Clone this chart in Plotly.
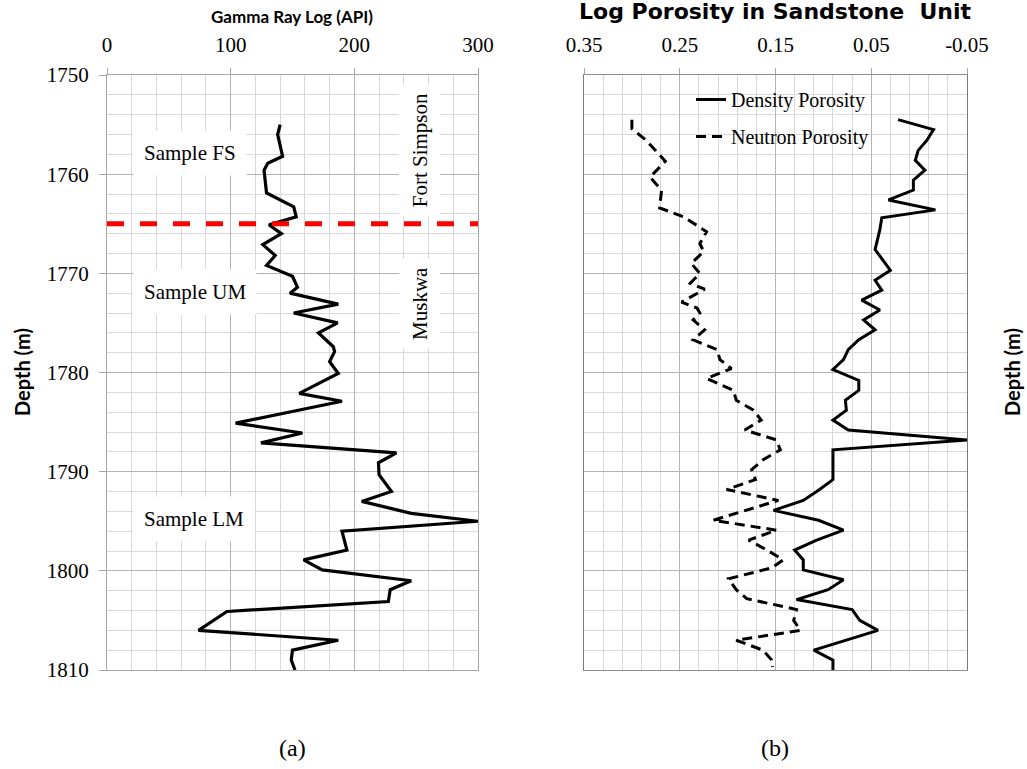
import plotly.graph_objects as go

# ---------------- data ----------------
gamma_depth = [1755.0, 1756.0, 1758.2, 1758.9, 1759.6, 1761.9, 1763.3, 1764.3, 1765.1, 1766.0,
               1767.1, 1768.2, 1769.2, 1770.3, 1771.4, 1772.0, 1773.1, 1774.0, 1775.0, 1776.0,
               1777.4, 1777.9, 1778.9, 1780.1, 1782.1, 1782.9, 1785.1, 1786.1, 1787.1, 1788.1,
               1789.1, 1790.3, 1792.0, 1793.0, 1794.2, 1795.0, 1796.0, 1797.9, 1798.9, 1799.9,
               1801.0, 1801.9, 1803.1, 1804.1, 1806.0, 1807.0, 1808.0, 1809.0, 1810.0]
gamma_api = [140, 138, 142, 130, 127, 129, 151, 153, 131, 141,
             126, 136, 129, 150, 154, 148, 187, 151, 186.5, 171,
             183, 184, 180, 187, 155.5, 190, 104, 158, 124.5, 234,
             219.5, 220, 230, 206, 246, 300, 190, 194, 159, 174,
             246, 229, 227.5, 97, 74, 187, 150, 149, 152]

density_depth = [1754.5, 1755.5, 1756.6, 1757.6, 1758.6, 1759.6, 1760.6, 1761.6, 1762.6, 1763.6,
                 1764.4, 1765.6, 1767.6, 1769.7, 1770.7, 1771.7, 1772.7, 1773.7, 1774.7, 1775.7,
                 1776.7, 1777.7, 1778.7, 1779.7, 1780.8, 1781.8, 1782.8, 1783.8, 1784.8, 1785.8,
                 1786.8, 1787.8, 1790.8, 1791.8, 1792.9, 1793.9, 1794.9, 1795.9, 1796.9, 1797.9,
                 1798.9, 1799.9, 1800.9, 1801.9, 1802.9, 1803.9, 1805.0, 1806.0, 1808.0, 1809.0,
                 1810.0]
density_por = [0.022, -0.015, -0.008, 0.001, 0.004, -0.006, 0.006, 0.006, 0.032, -0.017,
               0.039, 0.041, 0.046, 0.030, 0.046, 0.039, 0.060, 0.041, 0.058, 0.046,
               0.063, 0.074, 0.079, 0.090, 0.063, 0.063, 0.077, 0.076, 0.090, 0.074,
               -0.050, 0.090, 0.090, 0.104, 0.121, 0.152, 0.105, 0.079, 0.107, 0.130,
               0.121, 0.121, 0.079, 0.095, 0.128, 0.070, 0.062, 0.043, 0.110, 0.090,
               0.090]

neutron_depth = [1754.5, 1755.4, 1756.6, 1758.7, 1760.3, 1761.6, 1763.4, 1764.3, 1765.8, 1767.0,
                 1767.8, 1769.0, 1770.0, 1771.0, 1771.6, 1772.9, 1773.5, 1774.0, 1774.7, 1775.7,
                 1776.7, 1777.7, 1778.7, 1779.6, 1780.6, 1781.8, 1782.8, 1783.8, 1784.8, 1785.8,
                 1786.8, 1787.8, 1788.8, 1789.8, 1790.8, 1791.8, 1792.9, 1794.9, 1795.9, 1796.9,
                 1797.9, 1798.9, 1799.7, 1800.8, 1801.9, 1802.8, 1803.9, 1805.0, 1806.0, 1807.0,
                 1808.0, 1809.0, 1809.7]
neutron_por = [0.300, 0.300, 0.285, 0.265, 0.281, 0.269, 0.271, 0.246, 0.222, 0.229,
               0.225, 0.238, 0.229, 0.239, 0.224, 0.248, 0.232, 0.229, 0.236, 0.224,
               0.236, 0.211, 0.208, 0.196, 0.222, 0.194, 0.191, 0.173, 0.165, 0.182,
               0.149, 0.145, 0.163, 0.175, 0.171, 0.201, 0.147, 0.215, 0.149, 0.178,
               0.159, 0.142, 0.154, 0.199, 0.191, 0.180, 0.128, 0.131, 0.124, 0.191,
               0.163, 0.154, 0.153]

boundary_depth = 1765.0
gamma_ticks = [0, 100, 200, 300]
por_ticks = [0.35, 0.25, 0.15, 0.05, -0.05]
por_ticktext = ["0.35", "0.25", "0.15", "0.05", "-0.05"]
depth_ticks = [1750, 1760, 1770, 1780, 1790, 1800, 1810]

sample_labels = ["Sample FS", "Sample UM", "Sample LM"]
sample_pos = [(67, 1757.9), (71, 1771.9), (70, 1794.8)]
formation_labels = ["Fort Simpson", "Muskwa"]
formation_pos = [(253, 1757.6), (253, 1773.0)]

# ---------------- layout helpers ----------------
W, H = 1027, 769
def px(x):
    return x / W
def py(y):
    return 1 - y / H

SERIF = "Liberation Serif"
SANS = "Lato"
MINOR_GRID = "#d9d9d9"
MAJOR_GRID = "#b4b4b4"

fig = go.Figure()

fig.add_trace(go.Scatter(x=gamma_api, y=gamma_depth, mode="lines", xaxis="x", yaxis="y",
                         line=dict(color="black", width=3.2), showlegend=False))
fig.add_trace(go.Scatter(x=[gamma_ticks[0], gamma_ticks[-1]], y=[boundary_depth, boundary_depth],
                         mode="lines", xaxis="x", yaxis="y",
                         line=dict(color="#ff0000", width=5, dash="17px,16px"), showlegend=False))
fig.add_trace(go.Scatter(x=density_por, y=density_depth, mode="lines", xaxis="x2", yaxis="y2",
                         name="Density Porosity", legendgroup="d",
                         line=dict(color="black", width=3)))
fig.add_trace(go.Scatter(x=neutron_por, y=neutron_depth, mode="lines", xaxis="x2", yaxis="y2",
                         name="Neutron Porosity", legendgroup="n",
                         line=dict(color="black", width=3, dash="10px,6px")))

ydom = [py(670), py(75)]
common_y = dict(range=[1810, 1750], domain=ydom, dtick=10, tick0=1750,
                showgrid=True, gridcolor=MAJOR_GRID, gridwidth=1,
                minor=dict(dtick=2, showgrid=True, gridcolor=MINOR_GRID, gridwidth=1),
                zeroline=False, showline=True, mirror=True, linewidth=1.2, automargin=False)

fig.update_layout(
    width=W, height=H, margin=dict(l=0, r=0, t=0, b=0, pad=0, autoexpand=False),
    paper_bgcolor="white", plot_bgcolor="white",
    xaxis=dict(domain=[px(107), px(478)], range=[0, 300], side="top", anchor="y",
               tickvals=gamma_ticks, showgrid=True, gridcolor=MAJOR_GRID,
               minor=dict(dtick=20, tick0=0, showgrid=True, gridcolor=MINOR_GRID),
               zeroline=False, showline=True, mirror=True, linecolor="#a6a6a6", linewidth=1.2,
               ticks="outside", ticklen=6, tickcolor="#a6a6a6", ticklabelstandoff=8,
               automargin=False,
               tickfont=dict(family=SERIF, size=21, color="black")),
    yaxis=dict(anchor="x", tickvals=depth_ticks, ticks="outside", ticklen=7, tickcolor="#a6a6a6",
               linecolor="#a6a6a6", ticklabelstandoff=6,
               tickfont=dict(family=SERIF, size=21, color="black"), **common_y),
    xaxis2=dict(domain=[px(584), px(967)], range=[0.35, -0.05], side="top", anchor="y2",
                tickvals=por_ticks, ticktext=por_ticktext, showgrid=True, gridcolor=MAJOR_GRID,
                minor=dict(dtick=0.02, tick0=-0.05, showgrid=True, gridcolor=MINOR_GRID),
                zeroline=False, showline=True, mirror=True, linecolor="#8c8c8c", linewidth=1.2,
                ticks="outside", ticklen=6, tickcolor="#a6a6a6", ticklabelstandoff=8,
                automargin=False,
                tickfont=dict(family=SERIF, size=21, color="black")),
    yaxis2=dict(anchor="x2", showticklabels=False, ticks="", linecolor="#7a7a7a", **common_y),
    legend=dict(x=px(691), y=py(80), xanchor="left", yanchor="top",
                bgcolor="rgba(0,0,0,0)", borderwidth=0, tracegroupgap=8,
                font=dict(family=SERIF, size=20, color="black")),
    showlegend=True,
)

# white background box behind legend (covers grid lines)
fig.add_shape(type="rect", xref="paper", yref="paper",
              x0=px(663), x1=px(895), y0=py(155), y1=py(82),
              fillcolor="white", line=dict(width=0), layer="between")

annotations = []
for txt, (xv, yv) in zip(sample_labels, sample_pos):
    annotations.append(dict(text=txt, x=xv, y=yv, xref="x", yref="y", showarrow=False,
                            xanchor="center", yanchor="middle",
                            font=dict(family=SERIF, size=21, color="black"),
                            bgcolor="white", borderpad=10))
for txt, (xv, yv) in zip(formation_labels, formation_pos):
    annotations.append(dict(text=txt, x=xv, y=yv, xref="x", yref="y", showarrow=False,
                            xanchor="center", yanchor="middle",
                            textangle=-90, font=dict(family=SERIF, size=21, color="black"),
                            bgcolor="white", borderpad=8))
def paper_text(txt, x, y, font, angle=0):
    return dict(text=txt, x=px(x), y=py(y), xref="paper", yref="paper", showarrow=False,
                xanchor="center", yanchor="middle", textangle=angle, font=font)

annotations += [
    paper_text("<b>Gamma Ray Log (API)</b>", 292, 17, dict(family=SANS, size=17, color="black")),
    paper_text("<b>Log Porosity in Sandstone  Unit</b>", 775, 12,
               dict(family="DejaVu Sans", size=22, color="black")),
    paper_text("<b>Depth (m)</b>", 22, 372, dict(family=SANS, size=20, color="black"), -90),
    paper_text("<b>Depth (m)</b>", 1012, 372, dict(family=SANS, size=20, color="black"), -90),
    paper_text("(a)", 292, 748, dict(family=SERIF, size=24, color="black")),
    paper_text("(b)", 775, 748, dict(family=SERIF, size=24, color="black")),
]
fig.update_layout(annotations=annotations)

fig.write_html("out.html")
